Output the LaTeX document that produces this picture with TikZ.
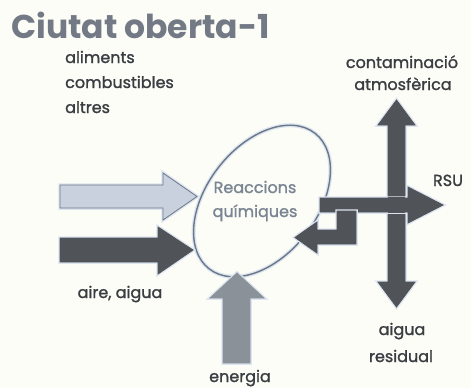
\documentclass[tikz,border=0pt]{standalone}
\usepackage{fontspec}
\setmainfont{Poppins}
\newfontfamily\labfont{Poppins}[FakeBold=1.3]
\usetikzlibrary{shapes.geometric}
\definecolor{bg}{HTML}{FDFDF7}
\definecolor{titlec}{HTML}{737A85}
\definecolor{labc}{HTML}{393C41}
\definecolor{ellc}{HTML}{6B7888}
\definecolor{innerc}{HTML}{7A8593}
\definecolor{lightfill}{HTML}{C9D1DE}
\definecolor{darkfill}{HTML}{505458}
\definecolor{midfill}{HTML}{8B9199}
\definecolor{halo}{HTML}{DDE5F0}
\begin{document}
\begin{tikzpicture}[x=1pt,y=-1pt,
  lab/.style={text=labc,inner sep=0pt,font=\labfont\fontsize{16}{25}\selectfont},
  inner/.style={text=innerc,inner sep=0pt,font=\labfont\fontsize{16}{24}\selectfont},
  blk/.style={line width=0.8pt,line join=miter,preaction={draw=halo,line width=3.5pt}}]
\fill[bg] (0,0) rectangle (471,388);
\useasboundingbox (0,0) rectangle (471,388);
% title
\node[anchor=base west,inner sep=0pt,text=titlec,font=\bfseries\fontsize{33}{33}\selectfont] (title) at (11,38) {Ciutat oberta-1};
% ellipse
\node[draw=ellc,line width=1.4pt,ellipse,minimum width=172,minimum height=110,rotate=52,inner sep=0pt,preaction={draw=halo,line width=4pt}] (ell) at (262,201) {};
\node[inner,anchor=base] (r1) at (255,193) {Reaccions};
\node[inner,anchor=base] (r2) at (255,217) {químiques};
% input arrows
\draw[blk,fill=lightfill,draw=ellc] (60,185) -- (163,185) -- (163,173) -- (197,196.5) -- (163,220) -- (163,208) -- (60,208) -- cycle;
\draw[blk,fill=darkfill,draw=darkfill] (60,238) -- (158,238) -- (158,227) -- (193,250) -- (158,274) -- (158,262) -- (60,262) -- cycle;
\draw[blk,fill=midfill,draw=midfill] (223,363) -- (223,298) -- (210,298) -- (237,273) -- (264,298) -- (250,298) -- (250,363) -- cycle;
% output arrows
\draw[blk,fill=darkfill,draw=darkfill] (388,125) -- (378,125) -- (396.5,100) -- (415,125) -- (405,125) -- (405,282) -- (415,282) -- (396.5,307) -- (378,282) -- (388,282) -- cycle;
\draw[blk,fill=darkfill,draw=darkfill] (320,198) -- (408,198) -- (408,187) -- (443,205) -- (408,223) -- (408,212) -- (320,212) -- cycle;
\draw[blk,fill=darkfill,draw=darkfill] (337,211) -- (356,211) -- (356,244) -- (317,244) -- (317,253) -- (295,237.5) -- (317,222) -- (317,230) -- (337,230) -- cycle;
\fill[darkfill] (388.4,197) rectangle (404.6,213);
% labels
\node[lab,anchor=base west,align=left] (in1) at (65,113) {aliments\\combustibles\\altres};
\node[lab,anchor=base] (in2) at (120,298) {aire, aigua};
\node[lab,anchor=base] (en) at (240,382) {energia};
\node[lab,anchor=base] (o1) at (402,68) {contaminació};
\node[lab,anchor=base] (o1b) at (403,90) {atmosfèrica};
\node[lab,anchor=base] (rsu) at (448,186) {RSU};
\node[lab,anchor=base] (o3) at (402,335) {aigua};
\node[lab,anchor=base] (o3b) at (401,362) {residual};
\end{tikzpicture}
\end{document}
